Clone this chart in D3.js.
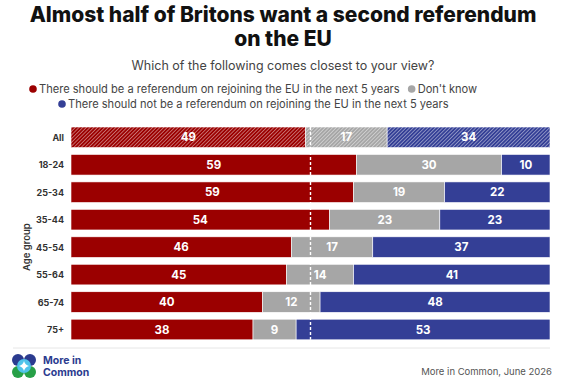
<!DOCTYPE html>
<html>
<head>
<meta charset="utf-8">
<script src="https://cdn.jsdelivr.net/npm/d3@7"></script>
<style>
  body { margin: 0; background: #fff; }
  svg { display: block; }
</style>
</head>
<body>
<div id="chart"></div>
<script>
// Data
const groups = ["All", "18-24", "25-34", "35-44", "45-54", "55-64", "65-74", "75+"];
const keys = ["yes", "dk", "no"];
const yesVals = [49, 59, 59, 54, 46, 45, 40, 38];
const dkVals = [17, 30, 19, 23, 17, 14, 12, 9];
const noVals = [34, 10, 22, 23, 37, 41, 48, 53];
const legendLabels = [
  "There should be a referendum on rejoining the EU in the next 5 years",
  "Don't know",
  "There should not be a referendum on rejoining the EU in the next 5 years"
];

const colors = { yes: "#9b0000", dk: "#a6a6a6", no: "#343f96" };

const W = 566, H = 386;
const margin = { top: 127, right: 16, bottom: 48, left: 71 };

const svg = d3.select("#chart").append("svg")
  .attr("width", W).attr("height", H)
  .style("font-family", "Inter, 'Noto Sans', sans-serif");

// hatch patterns for the "All" row
const defs = svg.append("defs");
keys.forEach(k => {
  const p = defs.append("pattern")
    .attr("id", "hatch-" + k)
    .attr("patternUnits", "userSpaceOnUse")
    .attr("width", 2.6).attr("height", 2.6)
    .attr("patternTransform", "rotate(45)");
  p.append("rect").attr("width", 2.6).attr("height", 2.6).attr("fill", colors[k]);
  p.append("line").attr("x1", 0).attr("y1", 0).attr("x2", 0).attr("y2", 2.6)
    .attr("stroke", "#fff").attr("stroke-width", 1).attr("stroke-opacity", 0.8);
});

// Title
svg.append("text").attr("x", W / 2).attr("y", 22).attr("text-anchor", "middle")
  .attr("font-size", 21).attr("font-weight", 800).attr("fill", "#111")
  .text("Almost half of Britons want a second referendum");
svg.append("text").attr("x", W / 2).attr("y", 46).attr("text-anchor", "middle")
  .attr("font-size", 21).attr("font-weight", 800).attr("fill", "#111")
  .text("on the EU");
svg.append("text").attr("x", W / 2).attr("y", 70).attr("text-anchor", "middle")
  .attr("font-size", 12.5).attr("fill", "#444")
  .text("Which of the following comes closest to your view?");

// Legend
const leg1 = svg.append("g").attr("transform", "translate(0,89)");
const leg2 = svg.append("g").attr("transform", "translate(0,104)");
function legendItem(g, x, k, label) {
  g.append("circle").attr("cx", x).attr("cy", 0).attr("r", 3.8).attr("fill", colors[k]);
  return g.append("text").attr("x", x + 6).attr("y", 4).attr("font-size", 11.1)
    .attr("fill", "#444").text(label);
}
const t1 = legendItem(leg1, 33, "yes", legendLabels[0]);
const w1 = t1.node().getComputedTextLength();
legendItem(leg1, 33 + 6 + w1 + 12, "dk", legendLabels[1]);
legendItem(leg2, 62, "no", legendLabels[2]);

// Scales
const rows = groups.map((g, i) => ({ group: g, yes: yesVals[i], dk: dkVals[i], no: noVals[i] }));
const stacked = d3.stack().keys(keys).offset(d3.stackOffsetExpand)(rows);

const x = d3.scaleLinear().domain([0, 1]).range([margin.left, W - margin.right]);
const y = d3.scaleBand().domain(groups)
  .range([margin.top, margin.top + 8 * 26.6]).paddingInner(0.25).paddingOuter(0);

const bars = svg.append("g");
stacked.forEach(s => {
  const k = s.key;
  const gg = bars.append("g");
  gg.selectAll("rect").data(s).join("rect")
    .attr("x", d => x(d[0]))
    .attr("y", d => y(d.data.group))
    .attr("width", d => x(d[1]) - x(d[0]))
    .attr("height", y.bandwidth())
    .attr("fill", d => d.data.group === "All" ? "url(#hatch-" + k + ")" : colors[k])
    .attr("stroke", "#fff").attr("stroke-width", 0.6);
  gg.selectAll("text").data(s).join("text")
    .attr("x", d => (x(d[0]) + x(d[1])) / 2)
    .attr("y", d => y(d.data.group) + y.bandwidth() / 2 + 4)
    .attr("text-anchor", "middle")
    .attr("font-size", 11.5).attr("font-weight", 700).attr("fill", "#fff")
    .text(d => d.data[k]);
});

// 50% dashed line
svg.append("line")
  .attr("x1", x(0.5)).attr("x2", x(0.5))
  .attr("y1", y("All")).attr("y2", y("75+") + y.bandwidth())
  .attr("stroke", "#fff").attr("stroke-width", 1.4).attr("stroke-dasharray", "3,2");

// Y axis labels
svg.append("g").selectAll("text").data(groups).join("text")
  .attr("x", 64).attr("y", d => y(d) + y.bandwidth() / 2 + 3.5)
  .attr("text-anchor", "end").attr("font-size", 9).attr("font-weight", 700)
  .attr("fill", "#333").text(d => d);

const ageMid = (y("18-24") + y("75+") + y.bandwidth()) / 2;
svg.append("text")
  .attr("transform", `translate(30,${ageMid}) rotate(-90)`)
  .attr("text-anchor", "middle").attr("font-size", 9.5).attr("font-weight", 600)
  .attr("fill", "#333").text("Age group");

// Footer
svg.append("line").attr("x1", 13).attr("x2", W - 16).attr("y1", 348).attr("y2", 348)
  .attr("stroke", "#e6e6e6").attr("stroke-width", 1);

const logo = svg.append("g").attr("transform", "translate(24,366)");
[[-6, -6, "#2b3b8f"], [6, -6, "#2b3b8f"], [-6, 6, "#27a047"], [6, 6, "#27a047"]].forEach(c => {
  logo.append("circle").attr("cx", c[0]).attr("cy", c[1]).attr("r", 6).attr("fill", c[2]);
});
logo.append("circle").attr("r", 7).attr("fill", "#4fc3ea");
logo.append("path").attr("d", "M0,-5 Q1,-1 5,0 Q1,1 0,5 Q-1,1 -5,0 Q-1,-1 0,-5Z").attr("fill", "#fff");

svg.append("text").attr("x", 43).attr("y", 364).attr("font-size", 10.5).attr("font-weight", 700)
  .attr("fill", "#2b3b8f").text("More in");
svg.append("text").attr("x", 43).attr("y", 376).attr("font-size", 10.5).attr("font-weight", 700)
  .attr("fill", "#2b3b8f").text("Common");

svg.append("text").attr("x", W - 14).attr("y", 375).attr("text-anchor", "end")
  .attr("font-size", 9.5).attr("fill", "#555").text("More in Common, June 2026");
</script>
</body>
</html>
